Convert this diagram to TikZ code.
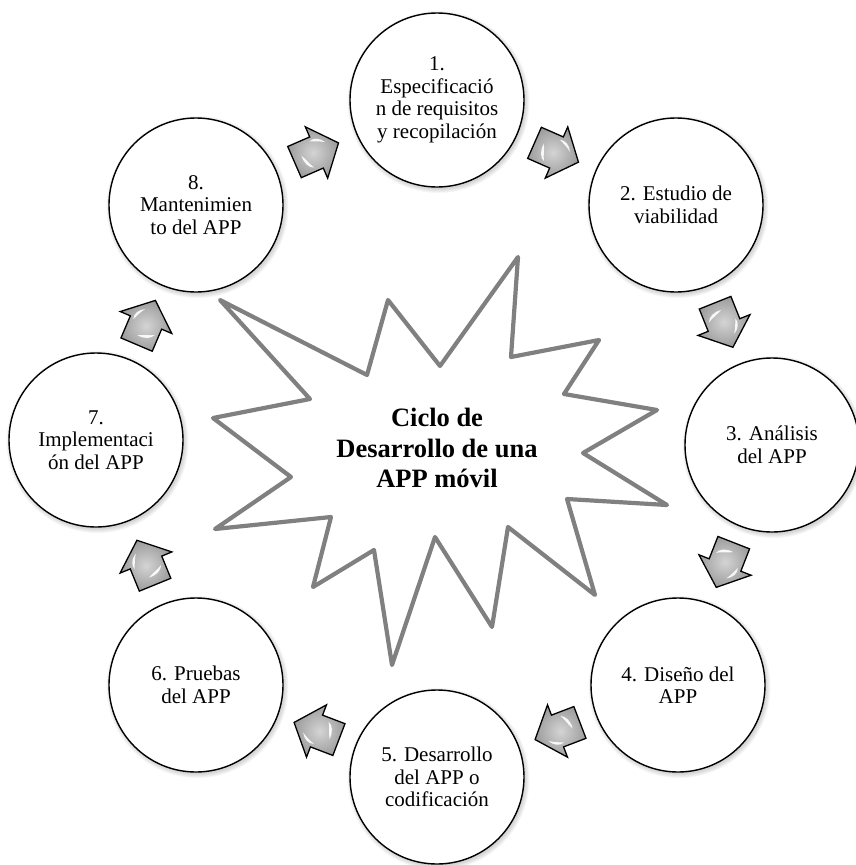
\documentclass[tikz,border=0pt]{standalone}
\usepackage{fontspec}
\setmainfont{Liberation Serif}
\usetikzlibrary{calc}

\definecolor{burstgray}{HTML}{808080}
\definecolor{arrowdark}{HTML}{9C9C9C}
\definecolor{arrowlight}{HTML}{D4D4D4}

\tikzset{
  stage/.style={circle, draw=black, line width=1.4pt, fill=white,
    minimum size=174pt, inner sep=0pt, align=center,
    font=\fontsize{21}{22.5}\selectfont},
  burst/.style={draw=burstgray, line width=4.2pt, line join=round, fill=white},
  title/.style={align=center, font=\fontsize{26.5}{30.5}\selectfont\bfseries},
  arrowbody/.style={draw=black, line width=1.3pt, line join=miter},
  gloss/.style={fill=white, opacity=0.9}
}

% block arrow placed halfway between two stages, pointing from #1 to #2
\def\arrowpath{(-24,-17) -- (0,-17) -- (0,-28) -- (24,0) -- (0,28) -- (0,17) -- (-24,17) -- cycle}
\newcommand\cyclearrow[2]{%
  \pgfmathanglebetweenpoints{\pgfpointanchor{#1}{center}}{\pgfpointanchor{#2}{center}}%
  \let\arrowangle\pgfmathresult
  \begin{scope}[shift={($(#1)!0.5!(#2)$)}, rotate=\arrowangle]
    \shade[inner color=arrowlight, outer color=arrowdark] \arrowpath;
    % bevel highlights
    \fill[gloss] (-15,-3) .. controls (-16,5) and (-13,11) .. (-8,13)
      .. controls (-11,8) and (-12,3) .. cycle;
    \fill[gloss] (-2,-13) .. controls (3,-15) and (9,-12) .. (12,-6)
      .. controls (8,-9) and (3,-11) .. cycle;
    \draw[arrowbody] \arrowpath;
  \end{scope}}

\begin{document}
\begin{tikzpicture}[x=1pt, y=-1pt]
\useasboundingbox (0,0) rectangle (856,865);

% stage centres
\coordinate (p1) at (437,100);
\coordinate (p2) at (676,205);
\coordinate (p3) at (772,445);
\coordinate (p4) at (678,685);
\coordinate (p5) at (437,777);
\coordinate (p6) at (196,685);
\coordinate (p7) at (96,440);
\coordinate (p8) at (196,205);

% soft shadows under the stages
\foreach \k in {1,...,8}{
  \foreach \s in {0,1,2,3,4}{
    \fill[black, opacity=0.035] ($(p\k)+(1.5,2)$) circle[radius={(87+\s)*1pt}];
  }
}

% central burst
\draw[burst] (220,300) -- (310,399) -- (213,418) -- (291,477) -- (215,529)
  -- (331,517) -- (313,587) -- (374,550) -- (392,665) -- (435,537)
  -- (492,627) -- (508,527) -- (595,595) -- (567,499) -- (667,505)
  -- (583,453) -- (657,410) -- (564,394) -- (599,340) -- (511,357)
  -- (518,257) -- (440,366) -- (388,300) -- (367,375) -- cycle;
\node[title] (title) at (437,448) {Ciclo de\\Desarrollo de una\\APP móvil};

% stages
\node[stage] (c1) at (p1) {1.\\Especificació\\n de requisitos\\y recopilación};
\node[stage] (c2) at (p2) {2. Estudio de\\viabilidad};
\node[stage] (c3) at (p3) {3. Análisis\\del APP};
\node[stage] (c4) at (p4) {4. Diseño del\\APP};
\node[stage] (c5) at (p5) {5. Desarrollo\\del APP o\\codificación};
\node[stage] (c6) at (p6) {6. Pruebas\\del APP};
\node[stage] (c7) at (p7) {7.\\Implementaci\\ón del APP};
\node[stage] (c8) at (p8) {8.\\Mantenimien\\to del APP};

% arrows of the cycle
\cyclearrow{c1}{c2}
\cyclearrow{c2}{c3}
\cyclearrow{c3}{c4}
\cyclearrow{c4}{c5}
\cyclearrow{c5}{c6}
\cyclearrow{c6}{c7}
\cyclearrow{c7}{c8}
\cyclearrow{c8}{c1}
\end{tikzpicture}
\end{document}
